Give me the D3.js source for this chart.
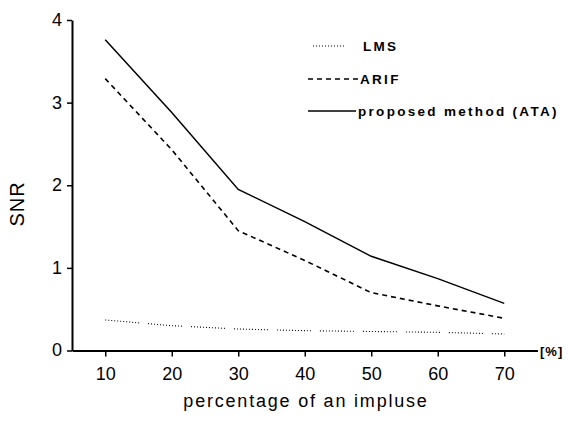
<!DOCTYPE html>
<html>
<head>
<meta charset="utf-8">
<script src="https://cdn.jsdelivr.net/npm/d3@7"></script>
<style>
  body { margin: 0; background: #fff; }
  text { font-family: "Liberation Sans", Arial, sans-serif; fill: #000; }
</style>
</head>
<body>
<div id="chart"></div>
<script>
// values
var pct = [10, 20, 30, 40, 50, 60, 70];
var lms = [0.37, 0.30, 0.26, 0.24, 0.23, 0.22, 0.20];
var arif = [3.29, 2.43, 1.45, 1.09, 0.70, 0.54, 0.39];
var ata = [3.76, 2.88, 1.95, 1.56, 1.14, 0.87, 0.57];
var xTicks = [10, 20, 30, 40, 50, 60, 70];
var yTicks = [0, 1, 2, 3, 4];
var seriesNames = ["LMS", "ARIF", "proposed method (ATA)"];

function draw_function() {
    var svg = d3.select("#chart").append("svg")
        .attr("width", 568).attr("height", 423);

    var x = d3.scaleLinear().domain([5, 75]).range([72, 537.5]);
    var y = d3.scaleLinear().domain([0, 4]).range([350.5, 20]);

    // dotted with small breaks, like the scan
    var dotPattern = [];
    for (var i = 0; i < 11; i++) { dotPattern.push(1, 2); }
    dotPattern.push(1, 9);
    var styles = [
        {data: lms, dash: dotPattern.join(","), width: 1.1},
        {data: arif, dash: "5,4", width: 1.6},
        {data: ata, dash: null, width: 1.5}
    ];

    var line = d3.line()
        .x(function(d) { return x(d[0]); })
        .y(function(d) { return y(d[1]); });

    styles.forEach(function(s) {
        svg.append("path")
            .datum(d3.zip(pct, s.data))
            .attr("fill", "none")
            .attr("stroke", "#000")
            .attr("stroke-width", s.width)
            .attr("stroke-dasharray", s.dash)
            .attr("d", line);
    });

    // x axis: major ticks + minor ticks at the halves
    var gx = svg.append("g").attr("transform", "translate(0," + y(0) + ")");
    gx.call(d3.axisBottom(x).tickValues(d3.range(15, 75, 10)).tickSize(4).tickFormat(""));
    gx.call(d3.axisBottom(x).tickValues(xTicks).tickSizeInner(6).tickSizeOuter(0)
        .tickFormat(d3.format("d")));
    gx.selectAll("path.domain").attr("stroke-width", 2);
    gx.selectAll(".tick line").attr("stroke-width", 1.5);
    gx.selectAll(".tick text")
        .attr("y", 17).attr("dy", "0.71em")
        .style("font-size", "18px").style("font-family", "Liberation Sans, Arial, sans-serif");

    // y axis
    var gy = svg.append("g").attr("transform", "translate(" + x(5) + ",0)");
    gy.call(d3.axisLeft(y).tickValues(d3.range(0.5, 4, 1)).tickSize(3).tickFormat(""));
    gy.call(d3.axisLeft(y).tickValues(yTicks).tickSizeInner(5).tickSizeOuter(0)
        .tickFormat(d3.format("d")));
    gy.selectAll("path.domain").attr("stroke-width", 2);
    gy.selectAll(".tick line").attr("stroke-width", 1.5);
    gy.selectAll(".tick text")
        .attr("x", -10).attr("dy", "0.3em")
        .style("font-size", "18px").style("font-family", "Liberation Sans, Arial, sans-serif");

    // unit at the end of the x axis
    svg.append("text")
        .attr("x", 540).attr("y", y(0) + 5)
        .style("font-size", "13px").style("font-weight", "bold")
        .style("letter-spacing", "1px")
        .text("[%]");

    svg.append("text")
        .attr("x", 306).attr("y", 407)
        .attr("text-anchor", "middle")
        .style("font-size", "18px").style("letter-spacing", "1.8px")
        .text("percentage of an impluse");

    svg.append("text")
        .attr("transform", "translate(24,204) rotate(-90)")
        .attr("text-anchor", "middle")
        .style("font-size", "20px").style("letter-spacing", "1px")
        .text("SNR");

    // legend
    var legRows = [
        {x1: 313, x2: 345, ly: 46, tx: 363, ty: 51},
        {x1: 308, x2: 358, ly: 79, tx: 360, ty: 84},
        {x1: 308, x2: 356, ly: 111, tx: 358, ty: 116}
    ];
    legRows.forEach(function(r, i) {
        svg.append("line")
            .attr("x1", r.x1).attr("x2", r.x2)
            .attr("y1", r.ly).attr("y2", r.ly)
            .attr("stroke", "#000")
            .attr("stroke-width", styles[i].width)
            .attr("stroke-dasharray", i == 0 ? "1,2" : styles[i].dash);
        svg.append("text")
            .attr("x", r.tx).attr("y", r.ty)
            .style("font-size", "13.5px").style("font-weight", "bold")
            .style("letter-spacing", "2.3px")
            .text(seriesNames[i]);
    });
}

window.onload = draw_function;
</script>
</body>
</html>
